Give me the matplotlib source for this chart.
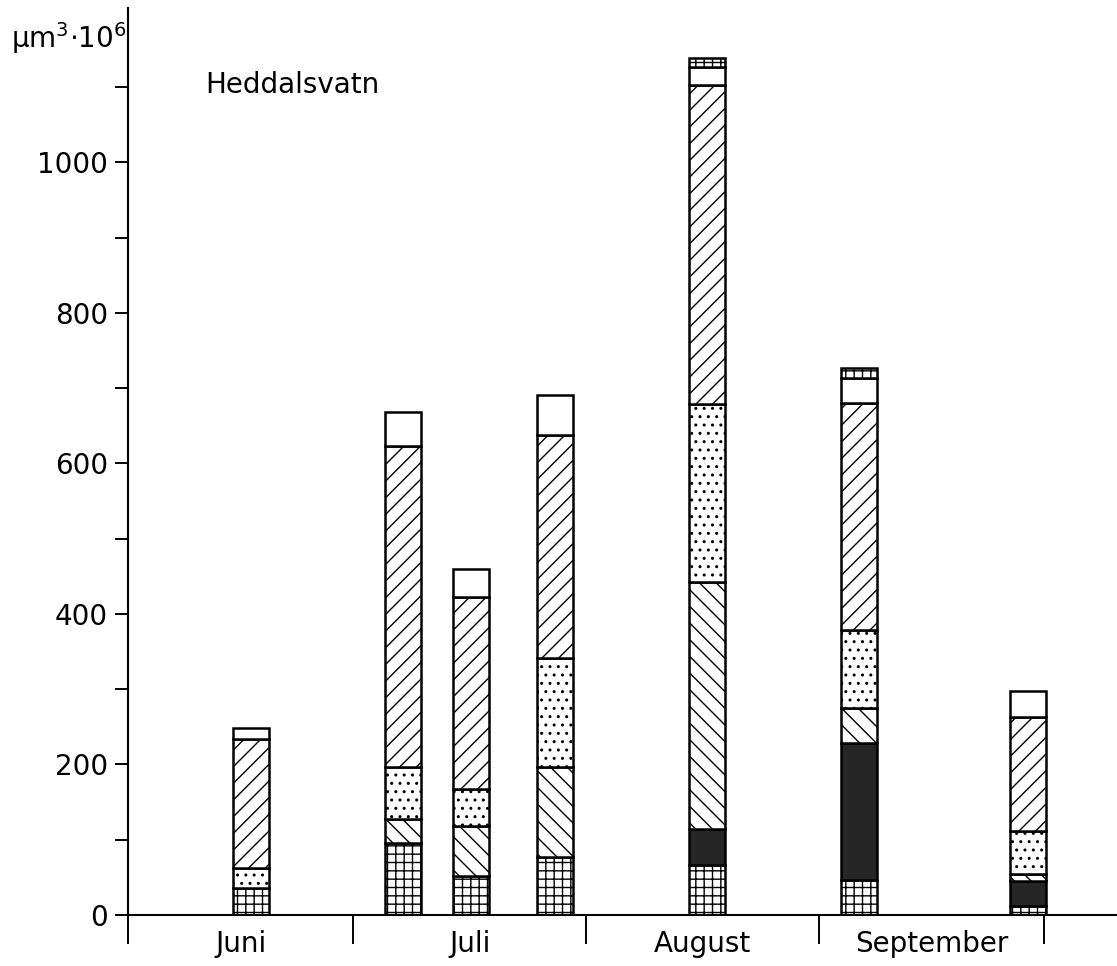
import matplotlib

matplotlib.use("Agg")
import matplotlib.pyplot as plt
import numpy as np

# Probenahmetage (Tage nach 1. Juni)
sample_days = [16.4, 36.6, 45.7, 56.9, 77.1, 97.4, 119.9]

# Biovolumen je Gruppe, von unten nach oben (µm³·10⁶)
grid_vals = [36, 96, 52, 77, 66, 46, 12]
black_vals = [0, 0, 0, 0, 48, 183, 33]
back_vals = [0, 31, 66, 120, 328, 46, 9]
dot_vals = [26, 70, 50, 144, 237, 104, 57]
slash_vals = [172, 426, 255, 297, 424, 301, 152]
white_vals = [14, 45, 36, 53, 24, 33, 35]
topgrid_vals = [0, 0, 0, 0, 12, 14, 0]

month_names = ["Juni", "Juli", "August", "September"]
month_starts = [0, 30, 61, 92, 122]

plt.rcParams["font.family"] = ["DejaVu Sans"]
plt.rcParams["hatch.linewidth"] = 1.0

fig = plt.figure(figsize=(11.17, 9.66), dpi=100)
ax = fig.add_axes([0.1146, 0.0528, 0.8854, 0.939])

layers = [
    (grid_vals, "white", "++"),
    (black_vals, "#262626", None),
    (back_vals, "white", "\\\\"),
    (dot_vals, "white", ".."),
    (slash_vals, "white", "//"),
    (white_vals, "white", None),
    (topgrid_vals, "white", "++"),
]

x = np.array(sample_days)
bottom = np.zeros(len(x))
for vals, face, hatch in layers:
    vals = np.array(vals, dtype=float)
    keep = vals > 0
    ax.bar(x[keep], vals[keep], width=4.8, bottom=bottom[keep],
           color=face, edgecolor="black", linewidth=1.8, hatch=hatch)
    bottom += vals

# Achsen
ax.set_xlim(0, 131.7)
ax.set_ylim(0, 1205)
for side in ["top", "right"]:
    ax.spines[side].set_visible(False)
ax.spines["left"].set_linewidth(1.5)
ax.spines["bottom"].set_linewidth(1.5)

ax.set_yticks(range(0, 1001, 200))
ax.set_yticks(range(100, 1200, 200), minor=True)
ax.tick_params(axis="y", which="both", direction="out", length=9.5,
               width=1.4, labelsize=20, pad=5)

# Monatsgrenzen als lange Striche, Monatsnamen in der Mitte
ax.set_xticks(month_starts)
ax.set_xticklabels([""] * len(month_starts))
mids = [(a + b) / 2 for a, b in zip(month_starts[:-1], month_starts[1:])]
ax.set_xticks(mids, minor=True)
ax.set_xticklabels(month_names, minor=True)
ax.tick_params(axis="x", which="major", direction="out", length=21,
               width=1.4)
ax.tick_params(axis="x", which="minor", length=0, labelsize=20, pad=11)

ax.text(0.078, 0.915, "Heddalsvatn", transform=ax.transAxes,
        fontsize=20, va="center", ha="left")
fig.text(0.01, 0.95, r"$\mathregular{\mu m^3{\cdot}10^6}$",
         fontsize=20, va="baseline", ha="left")

fig.savefig("out.png", dpi=100)
